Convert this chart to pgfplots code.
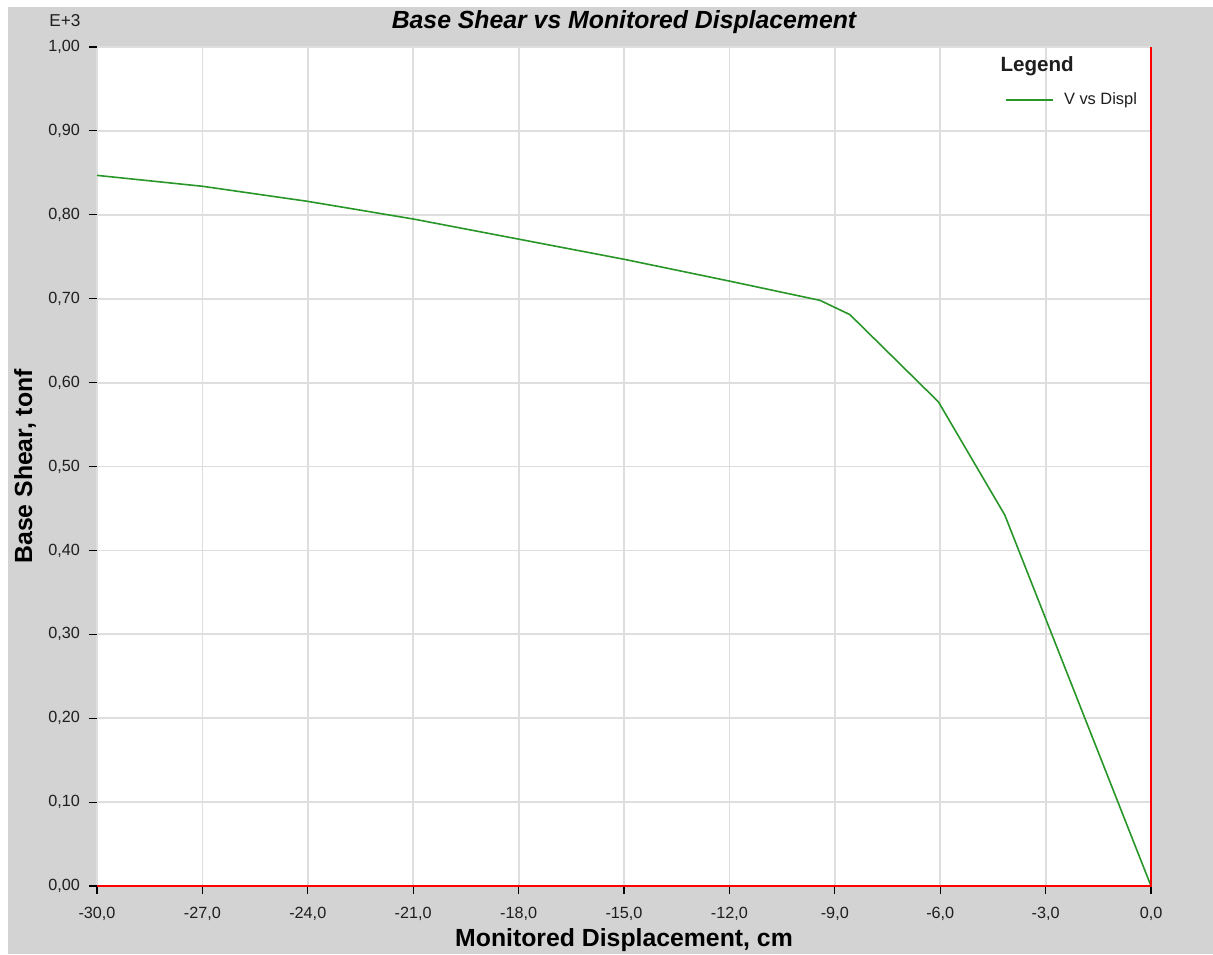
\documentclass[border=0pt]{standalone}
\usepackage{pgfplots}
\pgfplotsset{compat=1.18}
\usepackage{fontspec}
\setmainfont{Liberation Sans}
\definecolor{bggray}{RGB}{211,211,211}
\definecolor{gridgray}{RGB}{222,222,222}
\definecolor{curvegreen}{RGB}{40,150,40}
\definecolor{txt}{RGB}{30,30,30}
\begin{document}
\begin{tikzpicture}
\useasboundingbox (0,0) rectangle (606.5pt,477pt);
\fill[white] (0,0) rectangle (606.5pt,477pt);
\fill[bggray] (4pt,0) rectangle (606.5pt,473.5pt);
\begin{axis}[
  at={(48.5pt,34pt)}, anchor=south west,
  scale only axis, width=527pt, height=419.5pt,
  xmin=-30, xmax=0, ymin=0, ymax=1,
  axis background/.style={fill=white},
  axis line style={draw=none},
  xtick={-30,-27,-24,-21,-18,-15,-12,-9,-6,-3,0},
  xticklabels={{-30,0},{-27,0},{-24,0},{-21,0},{-18,0},{-15,0},{-12,0},{-9,0},{-6,0},{-3,0},{0,0}},
  ytick={0,0.1,0.2,0.3,0.4,0.5,0.6,0.7,0.8,0.9,1},
  yticklabels={{0,00},{0,10},{0,20},{0,30},{0,40},{0,50},{0,60},{0,70},{0,80},{0,90},{1,00}},
  xtick pos=bottom, ytick pos=left,
  tick align=outside, major tick length=4pt,
  tick style={black, line width=0.6pt},
  grid=major,
  major grid style={gridgray, line width=0.9pt},
  tick label style={font=\fontsize{8.1pt}{9pt}\selectfont, text=txt},
  xticklabel style={yshift=-3pt},
  yticklabel style={xshift=-1pt},
  legend style={draw=none, fill=none, at={(0.8615,0.937)}, anchor=west, inner sep=0pt,
    font=\fontsize{8.2pt}{9pt}\selectfont, text=txt, nodes={inner sep=0pt}, column sep=5pt},
  legend image code/.code={\draw[#1] (0pt,0pt) -- (23.5pt,0pt);},
  clip=false,
]
\addplot[curvegreen, line width=0.8pt] coordinates {
  (-30,0.847) (-27,0.834) (-24,0.816) (-21,0.795) (-18,0.771) (-15,0.747)
  (-12,0.721) (-9.42,0.698) (-8.57,0.681) (-6.05,0.577) (-4.16,0.442) (0,0)
};
\addlegendentry{V vs Displ}
\draw[red, line width=1pt] (axis cs:-30,0) -- (axis cs:0,0) -- (axis cs:0,1);
\node[font=\fontsize{10.3pt}{12pt}\selectfont\bfseries, text=txt] at (rel axis cs:0.892,0.977) {Legend};
\node[font=\fontsize{8.6pt}{10pt}\selectfont, text=txt] at (rel axis cs:-0.0304,1.031) {E+3};
\node[font=\fontsize{12.4pt}{14pt}\selectfont\bfseries\itshape] at (rel axis cs:0.5,1.0298) {Base Shear vs Monitored Displacement};
\node[font=\fontsize{12.4pt}{14pt}\selectfont\bfseries, rotate=90] at (rel axis cs:-0.0683,0.5) {Base Shear, tonf};
\node[font=\fontsize{12.4pt}{14pt}\selectfont\bfseries] at (rel axis cs:0.5,-0.0644) {Monitored Displacement, cm};
\end{axis}
\end{tikzpicture}
\end{document}
